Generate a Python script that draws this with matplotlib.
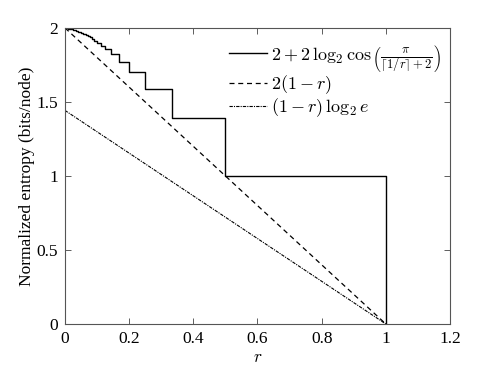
import matplotlib
matplotlib.use("Agg")
import matplotlib.pyplot as plt

plt.rcParams['font.family'] = ['Liberation Serif', 'DejaVu Serif']
plt.rcParams['mathtext.fontset'] = 'cm'

# step curve: left edges of steps and their levels
step_r = [0.0, 0.01, 0.02, 0.025, 0.0333, 0.04, 0.05, 0.0556, 0.0625, 0.0667,
          0.0714, 0.0769, 0.0833, 0.0909, 0.1, 0.111, 0.125, 0.143, 0.167,
          0.2, 0.25, 0.333, 0.5, 1.0]
step_h = [1.999, 1.996, 1.992, 1.988, 1.982, 1.975, 1.968, 1.961, 1.956, 1.950,
          1.944, 1.936, 1.927, 1.915, 1.900, 1.881, 1.855, 1.821, 1.772,
          1.699, 1.585, 1.389, 1.0, 0.0]
# linear bounds
line_r = [0.0, 1.0]
dashed_h = [2.0, 0.0]
dashdot_h = [1.4427, 0.0]

labels = [r'$2+2\,\log_2\cos\left(\frac{\pi}{\lceil 1/r\rceil+2}\right)$',
          r'$2(1-r)$',
          r'$(1-r)\,\log_2 e$']

fig = plt.figure(figsize=(4.98, 3.73), dpi=100)
ax = fig.add_axes([0.1305, 0.1314, 0.7731, 0.7937])

ax.plot(step_r, step_h, color='black', lw=1.0, drawstyle='steps-post', label=labels[0])
ax.plot(line_r, dashed_h, color='black', lw=0.9, linestyle=(0, (4, 3)), label=labels[1])
ax.plot(line_r, dashdot_h, color='black', lw=0.8, linestyle=(0, (3, 1, 1, 1)), label=labels[2])

ax.set_xlim(0, 1.2)
ax.set_ylim(0, 2)
ax.set_xticks([0, 0.2, 0.4, 0.6, 0.8, 1, 1.2])
ax.set_xticklabels(['0', '0.2', '0.4', '0.6', '0.8', '1', '1.2'])
ax.set_yticks([0, 0.5, 1, 1.5, 2])
ax.set_yticklabels(['0', '0.5', '1', '1.5', '2'])
ax.tick_params(direction='in', top=True, right=True, labelsize=12.5, length=4, width=0.6,
               color='#444444', pad=5)
for s in ax.spines.values():
    s.set_linewidth(0.8)
    s.set_color('#555555')
ax.set_xlabel(r'$r$', fontsize=12.5, labelpad=2)
ax.set_ylabel('Normalized entropy (bits/node)', fontsize=12.5, labelpad=1)

leg = ax.legend(loc='upper right', frameon=False, fontsize=13, handlelength=2.1,
                handletextpad=0.2, labelspacing=0.0, borderaxespad=0.0,
                bbox_to_anchor=(0.995, 0.975))

fig.savefig('out.png', dpi=100)
